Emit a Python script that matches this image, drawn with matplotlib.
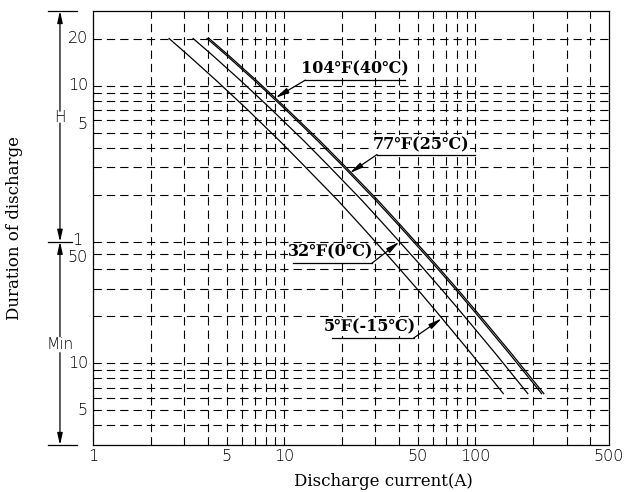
import matplotlib
matplotlib.use("Agg")
import matplotlib.pyplot as plt
from matplotlib.ticker import NullLocator, FixedLocator
from matplotlib.transforms import blended_transform_factory, offset_copy

plt.rcParams["font.family"] = ["DejaVu Sans"]
plt.rcParams["lines.scale_dashes"] = False

# Discharge duration (minutes) shared by the curve points
dur_min = [1200, 934, 645, 429, 265, 186, 111, 75.7, 43.6, 29.1, 21.1,
           11.6, 6.4]
# Discharge current (A) of each temperature curve
cur_104F = [4.05, 5.13, 7.18, 10.25, 15.4, 20.5, 30.8, 41, 61.5, 82, 102.5,
            154, 228]
cur_77F = [3.95, 5, 7, 10, 15, 20, 30, 40, 60, 80, 100, 150, 222]
cur_32F = [3.34, 4.23, 5.92, 8.45, 12.7, 16.9, 25.4, 33.8, 50.7, 67.6, 84.5,
           127, 188]
cur_5F = [2.5, 3.16, 4.42, 6.32, 9.48, 12.6, 19, 25.3, 37.9, 50.6, 63.2,
          94.8, 140]

curve_labels = ["104\u2109(40\u2103)", "77\u2109(25\u2103)",
                "32\u2109(0\u2103)", "5\u2109(-15\u2103)"]

x_tick_vals = [1, 5, 10, 50, 100, 500]
x_tick_text = ["1", "5", "10", "50", "100", "500"]
x_grid = [2, 3, 4, 5, 6, 7, 8, 9, 10, 20, 30, 40, 50, 60, 70, 80, 90,
          100, 200, 300, 400]
# horizontal grid levels in minutes (4 min .. 20 h)
y_grid = [4, 5, 6, 7, 8, 9, 10, 20, 30, 40, 50, 60, 120, 180, 240, 300,
          360, 420, 480, 540, 600, 1200]
y_tick_vals = [1200, 600, 300, 60, 50, 10, 5]
y_tick_text = ["20", "10", "5", "1", "50", "10", "5"]

num_font = dict(fontsize=11.5, fontweight=200)

fig = plt.figure(figsize=(6.44, 4.92), dpi=100)
ax = fig.add_axes([93 / 644, 47 / 492, 516 / 644, 434 / 492])
ax.set_xscale("log")
ax.set_yscale("log")
ax.set_xlim(1, 500)
ax.set_ylim(3, 1800)

for s in ax.spines.values():
    s.set_linewidth(0.9)
    s.set_color("black")

dash = (0, (6.0, 3.6))
for gx in x_grid:
    ax.axvline(gx, color="black", lw=0.8, linestyle=dash, zorder=1)
for gy in y_grid:
    ax.axhline(gy, color="black", lw=0.8, linestyle=dash, zorder=1)

for cur in (cur_104F, cur_77F, cur_32F, cur_5F):
    ax.plot(cur, dur_min, color="black", lw=0.9, zorder=3)

ax.xaxis.set_major_locator(FixedLocator(x_tick_vals))
ax.xaxis.set_minor_locator(NullLocator())
ax.set_xticklabels(x_tick_text, **num_font)
ax.yaxis.set_major_locator(FixedLocator([]))
ax.yaxis.set_minor_locator(NullLocator())
ax.tick_params(axis="x", length=0, pad=3)
ax.tick_params(axis="y", length=0)

blend = blended_transform_factory(ax.transAxes, ax.transData)

# y tick labels: hours above the 1 h line, minutes below
for v, t in zip(y_tick_vals, y_tick_text):
    xf = -0.0097
    dy = 0
    if t == "1" and v == 60:
        xf = -0.0215
        dy = 1
    if t == "5" and v == 300:
        dy = 8
    if t == "50" and v == 50:
        dy = -3
    tr = offset_copy(blend, fig=fig, x=0, y=dy, units="dots")
    ax.text(xf, v, t, transform=tr, ha="right", va="center", **num_font)

# dimension bar for the hour / minute ranges
x_dim = -0.064
ext = dict(color="black", lw=0.9, clip_on=False)
ax.plot([-0.0872, -0.031], [1800, 1800], transform=blend, **ext)
ax.plot([-0.0872, -0.031], [3, 3], transform=blend, **ext)
ax.plot([-0.0872, -0.0407], [60, 60], transform=blend, **ext)
arrow_kw = dict(arrowstyle="-|>,head_length=0.7,head_width=0.16",
                color="black", lw=0.9, shrinkA=0, shrinkB=0)
for tip, tail in ((1800, 411), (60, 345), (60, 14.8), (3, 11.7)):
    ax.annotate("", xy=(x_dim, tip), xytext=(x_dim, tail), xycoords=blend,
                textcoords=blend, arrowprops=arrow_kw, annotation_clip=False)
ax.text(x_dim, 377, "H", transform=blend, ha="center", va="center",
        fontsize=11, fontweight=200)
ax.text(x_dim, 13.1, "Min", transform=blend, ha="center", va="center",
        fontsize=11, fontweight=200)

# curve callouts: arrow tip, elbow, far end of underline, text anchor
callouts = [
    ((9.0, 500), (12.9, 650), (43, 650), (23.5, 771)),
    ((22, 165), (30.6, 217), (100, 217), (52.2, 252)),
    ((40.1, 60), (28.8, 43.8), (11.15, 43.8), (17.6, 51.4)),
    ((66.9, 19.4), (47.5, 14.5), (17.8, 14.5), (28.0, 17.0)),
]
lead_kw = dict(arrowstyle="-|>,head_length=0.8,head_width=0.16",
               color="black", lw=0.9, shrinkA=0, shrinkB=0)
for label, (tip, elbow, end, txt) in zip(curve_labels, callouts):
    ax.annotate("", xy=tip, xytext=elbow, arrowprops=lead_kw, zorder=4)
    ax.plot([elbow[0], end[0]], [elbow[1], end[1]], color="black", lw=0.9,
            zorder=4)
    ax.text(txt[0], txt[1], label, ha="center", va="center",
            fontsize=11.5, fontweight="bold", family=["DejaVu Serif"],
            zorder=5,
            bbox=dict(facecolor="white", edgecolor="none", pad=0.5))

fig.text(383 / 644, 1 - 481 / 492, "Discharge current(A)", ha="center",
         va="center", fontsize=12, family=["DejaVu Serif"])
fig.text(15 / 644, 1 - 228 / 492, "Duration of discharge", ha="center",
         va="center", rotation=90, fontsize=12, family=["DejaVu Serif"])

fig.savefig("out.png", dpi=100)
